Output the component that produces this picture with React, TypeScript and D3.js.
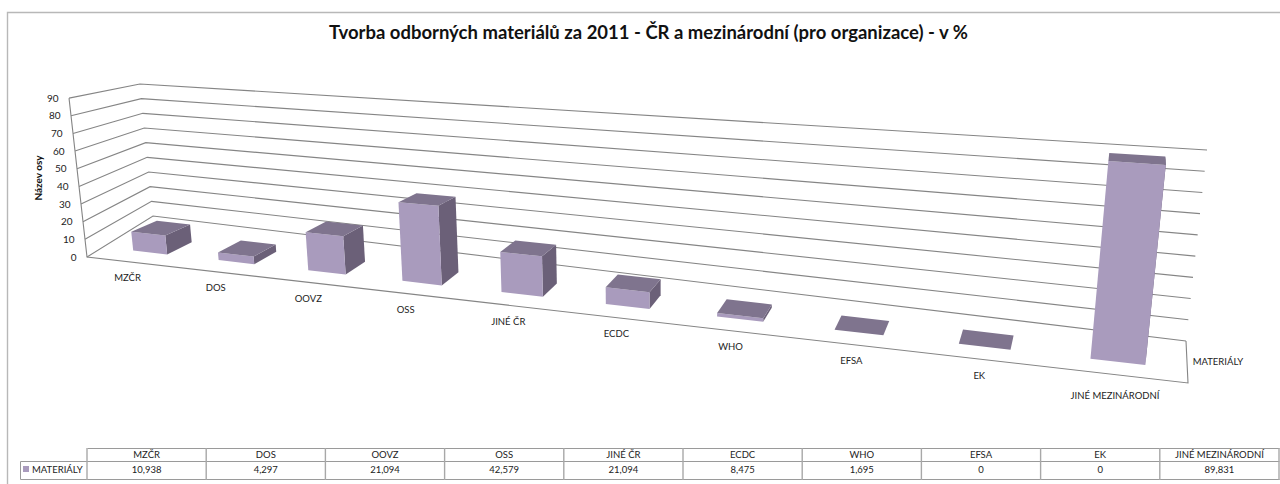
import React from "react";
import * as d3 from "d3";

const categories = ["MZČR", "DOS", "OOVZ", "OSS", "JINÉ ČR", "ECDC", "WHO", "EFSA", "EK", "JINÉ MEZINÁRODNÍ"];
const values = [10.938, 4.297, 21.094, 42.579, 21.094, 8.475, 1.695, 0, 0, 89.831];
const valueLabels = ["10,938", "4,297", "21,094", "42,579", "21,094", "8,475", "1,695", "0", "0", "89,831"];
const ticks = [0, 10, 20, 30, 40, 50, 60, 70, 80, 90];
const seriesName = "MATERIÁLY";
const title = "Tvorba odborných materiálů za 2011 - ČR a mezinárodní (pro organizace) - v %";
const axisTitle = "Název osy";

type Pt = [number, number];
const FONT = "Lato, 'Open Sans', sans-serif";
const FRONT = "#a99bbd", TOP = "#7f748e", SIDE = "#6b6078", GRID = "#858585", TXT = "#222";

// Floor corners and the vanishing point of the verticals
const FL: Pt = [87, 257], FR: Pt = [1188, 383], BR: Pt = [1186, 341], BL: Pt = [153, 216];
const VP: Pt = [649, 5222];
// share of the distance to the vanishing point covered by the whole value axis
const H_FL = 0.032, H_FR = 0.0429, H_BR = 0.03913, H_BL = 0.02637;
const PERSPECTIVE = 1.31;

const yScale = d3.scaleLinear().domain([0, 90]).range([0, 1]);
const uScale = d3.scaleLinear().domain([0, categories.length]).range([0, 1]);
const warp = (s: number) => s / (s + (1 - s) * PERSPECTIVE);
const mix = (a: number, b: number, t: number) => a + (b - a) * t;

function P(cat: number, depth: number, val: number): Pt {
  const u = warp(uScale(cat));
  const fx = mix(mix(FL[0], FR[0], u), mix(BL[0], BR[0], u), depth);
  const fy = mix(mix(FL[1], FR[1], u), mix(BL[1], BR[1], u), depth);
  const h = mix(mix(H_FL, H_FR, u), mix(H_BL, H_BR, u), depth) * yScale(val);
  // heights grow away from the vanishing point, which lies far below the chart
  return [mix(fx, VP[0], -h), mix(fy, VP[1], -h)];
}
const line = d3.line();
const poly = (pts: Pt[]) => line(pts)! + "Z";

const dFront = d3.scaleLinear().domain([0, categories.length]).range([0.23, 0.32]);
const dBack = d3.scaleLinear().domain([0, categories.length]).range([0.6, 0.65]);
// the 3D bars sit a little off the pure floor projection on the left-hand side
const nudgeX = d3.scaleLinear().domain([0, 5]).range([6, 0]).clamp(true);
const nudgeBack = d3.scaleLinear().domain([0, 7]).range([3, 0]).clamp(true);
const tableX = d3.scaleLinear().domain([0, categories.length]).range([87, 1279]);

function barPoint(i: number, cat: number, back: boolean, val: number): Pt {
  const p = P(cat, back ? dBack(i) : dFront(i), val);
  return [p[0] + nudgeX(i) + (back ? 1.5 * (nudgeX(i) / 6) : 0), p[1] + (back ? nudgeBack(i) : 0)];
}

export default function App() {
  const cols = d3.range(categories.length + 1);
  const n = categories.length;
  return (
    <svg width={1280} height={484} style={{ position: "absolute", left: 0, top: 0, background: "#fff" }} fontFamily={FONT}>
      <path d="M7.5,484V12.5H1280" fill="none" stroke="#b8b8b8" strokeWidth={1.4} />
      <text x={648.5} y={39} textAnchor="middle" fontSize={18} fontWeight={700} fill="#111" textLength={639} lengthAdjust="spacingAndGlyphs">{title}</text>

      {ticks.map((t) => {
        const a = P(0, 0, t), b = P(0, 1, t), c = P(n, 1, t);
        return (
          <g key={t}>
            <path d={line([a, b, c])!} fill="none" stroke={GRID} strokeWidth={1.1} />
            <text x={a[0] - 10.5} y={a[1] + 3.5} textAnchor="end" fontSize={10} fill={TXT}>{t}</text>
          </g>
        );
      })}
      <path d={line([P(0, 0, 90), P(0, 0, 0), P(n, 0, 0), P(n, 1, 0)])!} fill="none" stroke={GRID} strokeWidth={1.1} />
      <text transform="translate(42,178) rotate(-90)" textAnchor="middle" fontSize={10} fontWeight={700} fill="#111">{axisTitle}</text>

      {values.map((v, i) => {
        const a = i + 0.3, b = i + 0.7;
        const q = (cat: number, back: boolean, val: number) => barPoint(i, cat, back, val);
        return (
          <g key={categories[i]}>
            <path d={poly([q(b, false, 0), q(b, true, 0), q(b, true, v), q(b, false, v)])} fill={SIDE} />
            <path d={poly([q(a, false, 0), q(b, false, 0), q(b, false, v), q(a, false, v)])} fill={FRONT} />
            <path d={poly([q(a, false, v), q(b, false, v), q(b, true, v), q(a, true, v)])} fill={TOP} />
          </g>
        );
      })}

      {categories.map((c, i) => {
        const p = P(i + 0.5, 0, 0);
        return <text key={c} x={p[0] - 2} y={p[1] + (i === n - 1 ? 24 : 19.5)} textAnchor="middle" fontSize={9.5} fill={TXT}>{c}</text>;
      })}
      <text x={1218} y={365} textAnchor="middle" fontSize={9.5} fill={TXT}>{seriesName}</text>

      <path d={`M87.5,448.5H1279.5M20.5,461.5H1279.5M20.5,479.5H1279.5M20.5,461.5V479.5`} stroke="#9a9a9a" fill="none" />
      {cols.map((c) => <path key={c} d={`M${tableX(c)},448V480`} stroke="#a8a8a8" strokeWidth={1.4} />)}
      <rect x={23} y={466} width={6} height={6} fill={FRONT} />
      <text x={32} y={473} fontSize={9.5} fill={TXT}>{seriesName}</text>
      {categories.map((c, i) => (
        <g key={c}>
          <text x={tableX(i + 0.5)} y={458} textAnchor="middle" fontSize={9.5} fill={TXT}>{c}</text>
          <text x={tableX(i + 0.5)} y={473} textAnchor="middle" fontSize={9.5} fill={TXT}>{valueLabels[i]}</text>
        </g>
      ))}
    </svg>
  );
}
